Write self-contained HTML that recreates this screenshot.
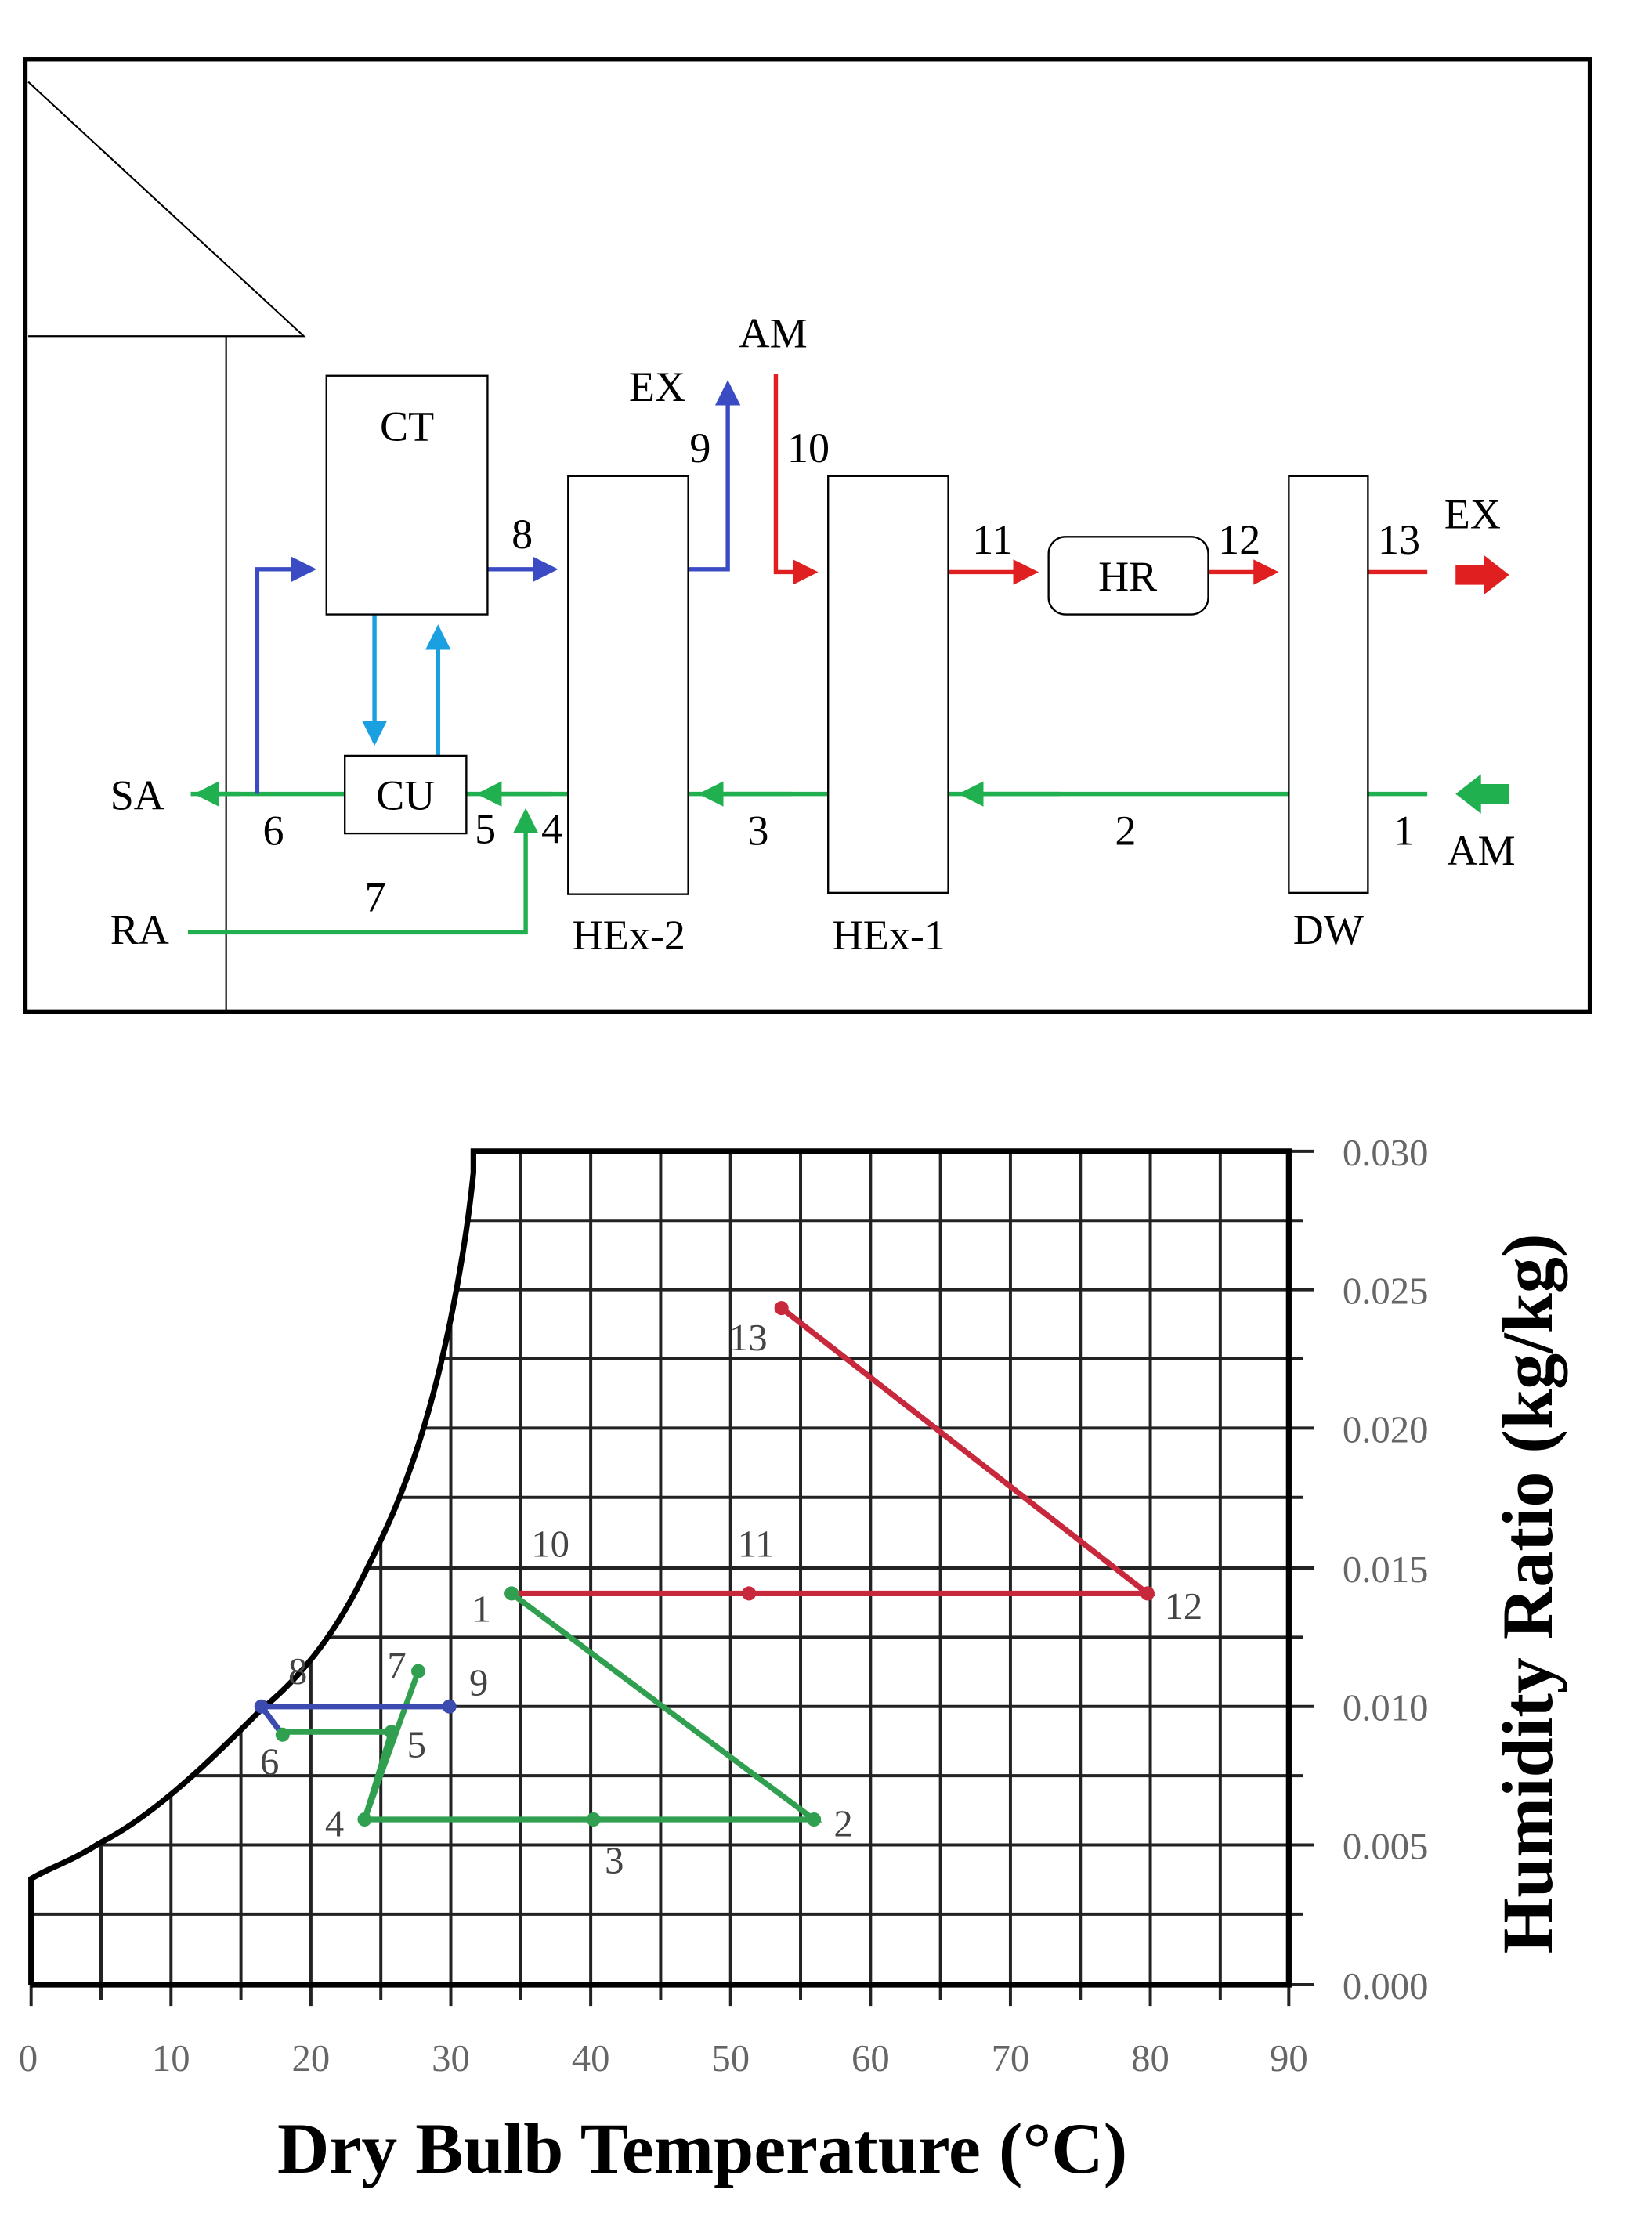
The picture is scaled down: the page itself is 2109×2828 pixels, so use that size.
<!DOCTYPE html>
<html><head><meta charset="utf-8"><style>html,body{margin:0;padding:0;background:#fff}svg{display:block}</style></head>
<body>
<svg width="2109" height="2828" viewBox="0 0 1169 1568" preserveAspectRatio="none" xmlns="http://www.w3.org/2000/svg" font-family="Liberation Serif, serif">
<defs>
<marker id="ab" markerWidth="6" markerHeight="6" refX="5" refY="3" orient="auto" markerUnits="strokeWidth"><path d="M0,0L6,3L0,6z" fill="#3b4bc4"/></marker>
<marker id="alb" markerWidth="6" markerHeight="6" refX="5" refY="3" orient="auto" markerUnits="strokeWidth"><path d="M0,0L6,3L0,6z" fill="#1aa0e0"/></marker>
<marker id="ar" markerWidth="6" markerHeight="6" refX="5" refY="3" orient="auto" markerUnits="strokeWidth"><path d="M0,0L6,3L0,6z" fill="#e02020"/></marker>
<marker id="ag" markerWidth="6" markerHeight="6" refX="5" refY="3" orient="auto" markerUnits="strokeWidth"><path d="M0,0L6,3L0,6z" fill="#20b050"/></marker>
</defs>
<rect x="18" y="42" width="1107" height="674" fill="none" stroke="#000" stroke-width="3"/>
<path d="M20,58L215,238H20M160,238V716" fill="none" stroke="#000" stroke-width="1.2"/>
<g fill="none" stroke-width="3">
<path d="M1010,562H135" stroke="#20b050"/>
<path d="M170,562H140" stroke="#20b050" marker-end="url(#ag)"/>
<path d="M390,562H340" stroke="#20b050" marker-end="url(#ag)"/>
<path d="M560,562H497" stroke="#20b050" marker-end="url(#ag)"/>
<path d="M750,562H681" stroke="#20b050" marker-end="url(#ag)"/>
<path d="M133,660H372V575" stroke="#20b050" marker-end="url(#ag)"/>
<path d="M182,562V403H221" stroke="#3b4bc4" marker-end="url(#ab)"/>
<path d="M345,403H392" stroke="#3b4bc4" marker-end="url(#ab)"/>
<path d="M487,403H515V272" stroke="#3b4bc4" marker-end="url(#ab)"/>
<path d="M265,435V525" stroke="#1aa0e0" marker-end="url(#alb)"/>
<path d="M310,535V445" stroke="#1aa0e0" marker-end="url(#alb)"/>
<path d="M549,265V405H576" stroke="#e02020" marker-end="url(#ar)"/>
<path d="M671,405H732" stroke="#e02020" marker-end="url(#ar)"/>
<path d="M855,405H902" stroke="#e02020" marker-end="url(#ar)"/>
<path d="M968,405H1010" stroke="#e02020"/>
</g>
<g fill="#fff" stroke="#000" stroke-width="1.3">
<rect x="231" y="266" width="114" height="169"/>
<rect x="244" y="535" width="86" height="55"/>
<rect x="402" y="337" width="85" height="296"/>
<rect x="586" y="337" width="85" height="295"/>
<rect x="742" y="380" width="113" height="55" rx="12"/>
<rect x="912" y="337" width="56" height="295"/>
</g>
<path d="M1030,400H1050V393L1068,407L1050,421V414H1030z" fill="#e02020"/>
<path d="M1068,555H1048V548L1030,562L1048,576V569H1068z" fill="#20b050"/>
<g font-size="30" fill="#000">
<text x="288" y="312" text-anchor="middle">CT</text>
<text x="287" y="573" text-anchor="middle">CU</text>
<text x="798" y="418" text-anchor="middle">HR</text>
<text x="445" y="672" text-anchor="middle">HEx-2</text>
<text x="629" y="672" text-anchor="middle">HEx-1</text>
<text x="940" y="668" text-anchor="middle">DW</text>
<text x="78" y="573">SA</text>
<text x="78" y="668">RA</text>
<text x="445" y="284">EX</text>
<text x="523" y="246">AM</text>
<text x="1022" y="374">EX</text>
<text x="1024" y="612">AM</text>
<text x="362" y="388">8</text>
<text x="488" y="327">9</text>
<text x="557" y="327">10</text>
<text x="688" y="392">11</text>
<text x="862" y="392">12</text>
<text x="975" y="392">13</text>
<text x="186" y="598">6</text>
<text x="336" y="597">5</text>
<text x="383" y="597">4</text>
<text x="258" y="645">7</text>
<text x="529" y="598">3</text>
<text x="789" y="598">2</text>
<text x="986" y="598">1</text>
</g>
<g stroke="#222" stroke-width="2.2" fill="none">
<path d="M22,1355H912M22,1306H912M22,1257H912M22,1208H912M22,1159H912M22,1110H912M22,1060H912M22,1011H912M22,962H912M22,913H912M22,864H912"/>
<path d="M71.5,815V1405M121,815V1405M170.5,815V1405M220,815V1405M269.5,815V1405M319,815V1405M368.5,815V1405M418,815V1405M467.5,815V1405M517,815V1405M566.5,815V1405M616,815V1405M665.5,815V1405M715,815V1405M764.5,815V1405M814,815V1405M863.5,815V1405"/>
<path d="M22,1405V1420M71.5,1405V1416M121,1405V1420M170.5,1405V1416M220,1405V1420M269.5,1405V1416M319,1405V1420M368.5,1405V1416M418,1405V1420M467.5,1405V1416M517,1405V1420M566.5,1405V1416M616,1405V1420M665.5,1405V1416M715,1405V1420M764.5,1405V1416M814,1405V1420M863.5,1405V1416M912,1405V1420"/>
<path d="M912,1405H930M912,1306H930M912,1208H930M912,1110H930M912,1011H930M912,913H930M912,815H930M912,1355H922M912,1257H922M912,1159H922M912,1060H922M912,962H922M912,864H922"/>
</g>
<path d="M0,800 L335,800 L335,815 C330,880 318,950 300,1010 C285,1060 270,1090 255,1120 C235,1160 210,1190 185,1210 C150,1245 110,1285 70,1305 C50,1318 35,1322 22,1330 L0,1330 Z" fill="#fff"/>
<path d="M22,1405V1330 C35,1322 50,1318 70,1305 C110,1285 150,1245 185,1210 C210,1190 235,1160 255,1120 C270,1090 285,1060 300,1010 C318,950 330,880 335,830 V815 H912 V1405 H22" fill="none" stroke="#000" stroke-width="4"/>
<g fill="#666" font-size="27">
<text x="20" y="1466" text-anchor="middle">0</text>
<text x="121" y="1466" text-anchor="middle">10</text>
<text x="220" y="1466" text-anchor="middle">20</text>
<text x="319" y="1466" text-anchor="middle">30</text>
<text x="418" y="1466" text-anchor="middle">40</text>
<text x="517" y="1466" text-anchor="middle">50</text>
<text x="616" y="1466" text-anchor="middle">60</text>
<text x="715" y="1466" text-anchor="middle">70</text>
<text x="814" y="1466" text-anchor="middle">80</text>
<text x="912" y="1466" text-anchor="middle">90</text>
<text x="950" y="1415">0.000</text>
<text x="950" y="1316">0.005</text>
<text x="950" y="1218">0.010</text>
<text x="950" y="1120">0.015</text>
<text x="950" y="1021">0.020</text>
<text x="950" y="923">0.025</text>
<text x="950" y="825">0.030</text>
</g>
<text x="497" y="1538" text-anchor="middle" font-size="51" font-weight="bold">Dry Bulb Temperature (°C)</text>
<text transform="translate(1098,1128) rotate(-90)" text-anchor="middle" font-size="51" font-weight="bold">Humidity Ratio (kg/kg)</text>
<g fill="none" stroke-width="4">
<path d="M362,1128H812L553,926" stroke="#c8283c"/>
<path d="M362,1128L576,1288H258L296,1183M258,1288L277,1226H200" stroke="#30a050"/>
<path d="M318,1208H185L200,1228" stroke="#3b4bb0"/>
</g>
<g fill="#c8283c"><circle cx="530" cy="1128" r="5"/><circle cx="812" cy="1128" r="5"/><circle cx="553" cy="926" r="5"/></g>
<g fill="#30a050"><circle cx="362" cy="1128" r="5"/><circle cx="576" cy="1288" r="5"/><circle cx="420" cy="1288" r="5"/><circle cx="258" cy="1288" r="5"/><circle cx="277" cy="1226" r="5"/><circle cx="296" cy="1183" r="5"/><circle cx="200" cy="1228" r="5"/></g>
<g fill="#3b4bb0"><circle cx="318" cy="1208" r="5"/><circle cx="185" cy="1208" r="5"/></g>
<g font-size="27" fill="#444">
<text x="376" y="1102">10</text><text x="522" y="1102">11</text><text x="824" y="1146">12</text>
<text x="516" y="956">13</text><text x="334" y="1148">1</text><text x="590" y="1300">2</text>
<text x="428" y="1326">3</text><text x="230" y="1300">4</text><text x="288" y="1244">5</text>
<text x="184" y="1256">6</text><text x="274" y="1188">7</text><text x="204" y="1192">8</text><text x="332" y="1200">9</text>
</g>
</svg>
</body></html>
